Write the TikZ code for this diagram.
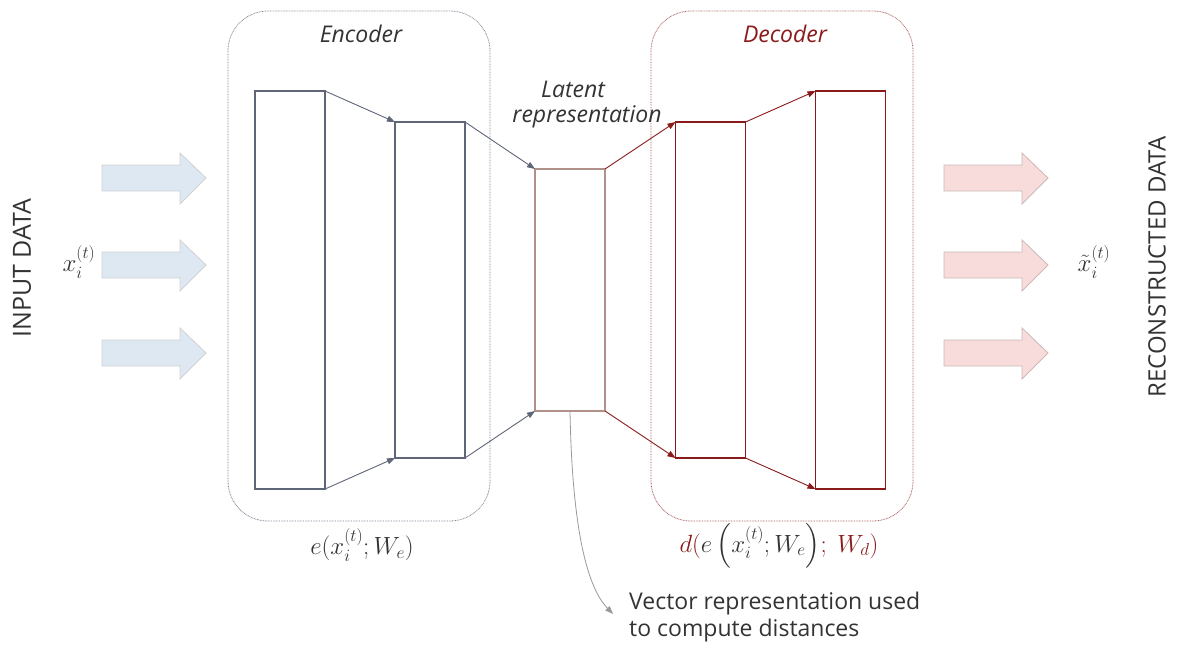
\documentclass[tikz,border=0pt]{standalone}
\usepackage{fontspec}
\setmainfont{Open Sans}
\usepackage{amsmath}
\usetikzlibrary{arrows.meta}
\definecolor{encc}{HTML}{5F6678}
\definecolor{decc}{HTML}{8B1A1A}
\definecolor{latc}{HTML}{B09088}
\definecolor{txtc}{HTML}{333333}
\definecolor{inblue}{HTML}{DEE8F3}
\definecolor{inred}{HTML}{F8DCDC}
\begin{document}
\begin{tikzpicture}[x=1pt,y=-1pt,
  txt/.style={text=txtc,font=\fontsize{23}{27}\selectfont,inner sep=0pt},
  mtxt/.style={text=txtc,font=\fontsize{25}{30}\selectfont,inner sep=0pt},
  layer/.style={draw,line width=1.4pt,inner sep=0pt,outer sep=0pt,minimum width=70pt},
  conn/.style={line width=0.9pt,-{Triangle[length=8pt,width=6pt]}},
  group/.style={line width=0.8pt,dash pattern=on 0.8pt off 0.8pt,rounded corners=40pt},
  inarr/.style={fill=inblue,draw=black!18,line width=0.8pt},
  outarr/.style={fill=inred,draw=inred!80!black!90,line width=0.8pt}]
\useasboundingbox (0,0) rectangle (1178,648);
% group boxes
\draw[group,draw=encc!80] (228,11) rectangle (490,521);
\draw[group,draw=decc!70] (651,11) rectangle (913,521);
\node[txt,font=\fontsize{23}{27}\selectfont\itshape] (enct) at (361,34) {Encoder};
\node[txt,text=decc,font=\fontsize{23}{27}\selectfont\itshape] (dect) at (785,34) {Decoder};
% layers
\node[layer,draw=encc,minimum height=398pt] (e1) at (290,290) {};
\node[layer,draw=encc,minimum height=336pt] (e2) at (430,290) {};
\node[layer,draw=latc,minimum height=242pt] (lat) at (570,290) {};
\node[layer,draw=decc,minimum height=336pt] (d1) at (710.5,290) {};
\node[layer,draw=decc,minimum height=398pt] (d2) at (850.5,290) {};
% connectors
\draw[conn,encc] (e1.north east) -- (e2.north west);
\draw[conn,encc] (e1.south east) -- (e2.south west);
\draw[conn,encc] (e2.north east) -- (lat.north west);
\draw[conn,encc] (e2.south east) -- (lat.south west);
\draw[conn,decc] (lat.north east) -- (d1.north west);
\draw[conn,decc] (lat.south east) -- (d1.south west);
\draw[conn,decc] (d1.north east) -- (d2.north west);
\draw[conn,decc] (d1.south east) -- (d2.south west);
% latent label
\node[txt,font=\fontsize{23}{27}\selectfont\itshape] (lt1) at (573,89) {Latent};
\node[txt,font=\fontsize{23}{27}\selectfont\itshape] (lt2) at (587,117) {representation};
% block arrows
\foreach \yy in {178,265,353}{
  \draw[inarr] (102,\yy-13) -- (180,\yy-13) -- (180,\yy-25) -- (206,\yy) -- (180,\yy+26) -- (180,\yy+13) -- (102,\yy+13) -- cycle;
  \draw[outarr] (944,\yy-13) -- (1022,\yy-13) -- (1022,\yy-25) -- (1048,\yy) -- (1022,\yy+26) -- (1022,\yy+13) -- (944,\yy+13) -- cycle;
}
% side labels
\node[txt,font=\fontsize{25}{30}\selectfont,rotate=90] (inl) at (22,268) {INPUT DATA};
\node[txt,font=\fontsize{24}{30}\selectfont,rotate=90] (outl) at (1157,267) {RECONSTRUCTED DATA};
\node[mtxt] (xin) at (79,262) {$x_i^{(t)}$};
\node[mtxt] (xout) at (1094,262) {$\tilde{x}_i^{(t)}$};
% formulas
\node[mtxt] (ef) at (362,545) {$e(x_i^{(t)};W_e)$};
\node[mtxt] (df) at (779,546) {\textcolor{decc}{$d($}$e\left(x_i^{(t)};W_e\right)$\textcolor{decc}{$;\ W_d)$}};
% vector representation
\node[txt,align=left,anchor=west] (vec) at (629,617) {Vector representation used\\to compute distances};
\coordinate (vend) at (613,614);
\draw[line width=0.8pt,draw=black!40,-{Triangle[length=8pt,width=6pt]}] (lat.south) .. controls (572,520) and (585,585) .. (vend);
\end{tikzpicture}
\end{document}
